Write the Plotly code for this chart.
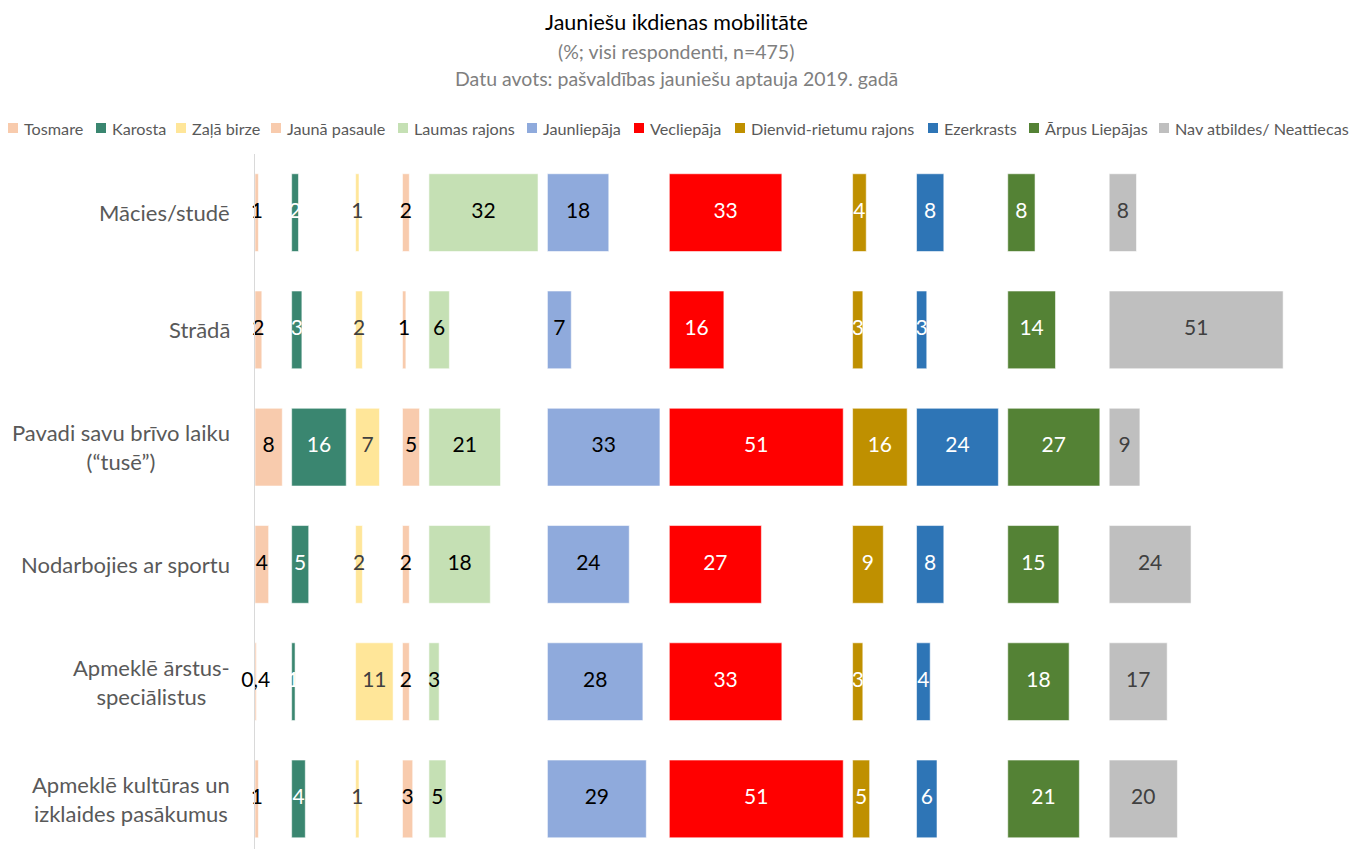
import plotly.graph_objects as go

# ---------------- data ----------------
categories = [
    "Mācies/studē",
    "Strādā",
    "Pavadi savu brīvo laiku<br>(“tusē”)",
    "Nodarbojies ar sportu",
    "Apmeklē ārstus-<br>speciālistus",
    "Apmeklē kultūras un<br>izklaides pasākumus",
]

series_names = ["Tosmare", "Karosta", "Zaļā birze", "Jaunā pasaule", "Laumas rajons",
                "Jaunliepāja", "Vecliepāja", "Dienvid-rietumu rajons", "Ezerkrasts",
                "Ārpus Liepājas", "Nav atbildes/ Neattiecas"]

tosmare = [1, 2, 8, 4, 0.4, 1]
karosta = [2, 3, 16, 5, 1, 4]
zala_birze = [1, 2, 7, 2, 11, 1]
jauna_pasaule = [2, 1, 5, 2, 2, 3]
laumas = [32, 6, 21, 18, 3, 5]
jaunliepaja = [18, 7, 33, 24, 28, 29]
vecliepaja = [33, 16, 51, 27, 33, 51]
dienvid = [4, 3, 16, 9, 3, 5]
ezerkrasts = [8, 3, 24, 8, 4, 6]
arpus = [8, 14, 27, 15, 18, 21]
nav = [8, 51, 9, 24, 17, 20]

series_values = [tosmare, karosta, zala_birze, jauna_pasaule, laumas, jaunliepaja,
                 vecliepaja, dienvid, ezerkrasts, arpus, nav]

title_lines = ["Jauniešu ikdienas mobilitāte",
               "(%; visi respondenti, n=475)",
               "Datu avots: pašvaldības jauniešu aptauja 2019. gadā"]

# ---------------- styles ----------------
colors = ["#F8CBAD", "#3A8670", "#FFE699", "#F8CBAD", "#C5E0B4", "#8FAADC",
          "#FF0000", "#BF9000", "#2E75B6", "#548235", "#BFBFBF"]
label_colors = ["#000000", "#FFFFFF", "#404040", "#000000", "#000000", "#000000",
                "#FFFFFF", "#FFFFFF", "#FFFFFF", "#FFFFFF", "#404040"]
FONT = "Lato"
GAP = 2.75          # spacing between panels (data units)
PX_PER_UNIT = 3.41
W, H = 1358, 849
L, R, T, B = 255, 46, 154, 0
plot_w = W - L - R
x_max = plot_w / PX_PER_UNIT

def fmt(v):
    return str(v).replace(".", ",") if v != int(v) else str(int(v))

# panel offsets derived from the maximum of each series
bases = []
acc = 0.0
for vals in series_values:
    bases.append(acc)
    acc += max(vals) + GAP

fig = go.Figure()
for name, vals, base, col in zip(series_names, series_values, bases, colors):
    fig.add_trace(go.Bar(
        y=categories, x=vals, base=base, orientation="h", name=name,
        marker=dict(color=col, line=dict(color="rgba(255,255,255,0.7)", width=0.8)),
        showlegend=False, hoverinfo="skip"))

for name, vals, base, lc in zip(series_names, series_values, bases, label_colors):
    fig.add_trace(go.Scatter(
        y=categories, x=[base + v / 2 for v in vals], mode="text",
        text=[fmt(v) for v in vals], textposition="middle center",
        textfont=dict(family=FONT, size=21, color=lc),
        showlegend=False, hoverinfo="skip", cliponaxis=False))

def px2paper(px):
    return (px - L) / plot_w

def py2paper(py):
    return 1 + (T - py) / (H - T - B)

annotations = []
# title block
title_center = 676
for txt, yy, sz, col in [(title_lines[0], 22, 21.5, "#000000"),
                         (title_lines[1], 52, 19.5, "#7F7F7F"),
                         (title_lines[2], 78, 19.5, "#7F7F7F")]:
    annotations.append(dict(text=txt, xref="paper", yref="paper",
                            x=px2paper(title_center), y=py2paper(yy),
                            xanchor="center", yanchor="middle", showarrow=False,
                            font=dict(family=FONT, size=sz, color=col)))

# category labels (centered multi-line text, right edge near axis)
for c in categories:
    annotations.append(dict(text=c, xref="paper", yref="y", x=0, y=c, xanchor="right",
                            yanchor="middle", align="center", xshift=-23, showarrow=False,
                            font=dict(family=FONT, size=22, color="#595959")))

# legend (manual, one row)
legend_sq_x = [8, 96, 176, 271, 398, 527, 634, 735, 928, 1029, 1159]
legend_y = 128
shapes = []
for name, col, sx in zip(series_names, colors, legend_sq_x):
    shapes.append(dict(type="rect", xref="paper", yref="paper",
                       x0=px2paper(sx), x1=px2paper(sx + 10),
                       y0=py2paper(legend_y + 5), y1=py2paper(legend_y - 5),
                       fillcolor=col, line=dict(width=0)))
    annotations.append(dict(text=name, xref="paper", yref="paper",
                            x=px2paper(sx + 14), y=py2paper(legend_y),
                            xanchor="left", yanchor="middle", showarrow=False,
                            font=dict(family=FONT, size=16.2, color="#595959")))

fig.update_layout(
    width=W, height=H,
    margin=dict(l=L, r=R, t=T, b=B, pad=0),
    paper_bgcolor="white", plot_bgcolor="white",
    barmode="overlay", bargap=0.337,
    xaxis=dict(range=[0, x_max], visible=False, fixedrange=True),
    yaxis=dict(type="category", categoryorder="array", categoryarray=categories,
               range=[5.427, -0.5], showticklabels=False, showgrid=False, zeroline=False,
               showline=True, linecolor="#D9D9D9", linewidth=1, ticks="", fixedrange=True),
    annotations=annotations, shapes=shapes,
    font=dict(family=FONT),
)

fig.write_html("out.html", config={"displayModeBar": False},
               post_script="document.body.style.margin='0';document.body.style.overflow='hidden';")
